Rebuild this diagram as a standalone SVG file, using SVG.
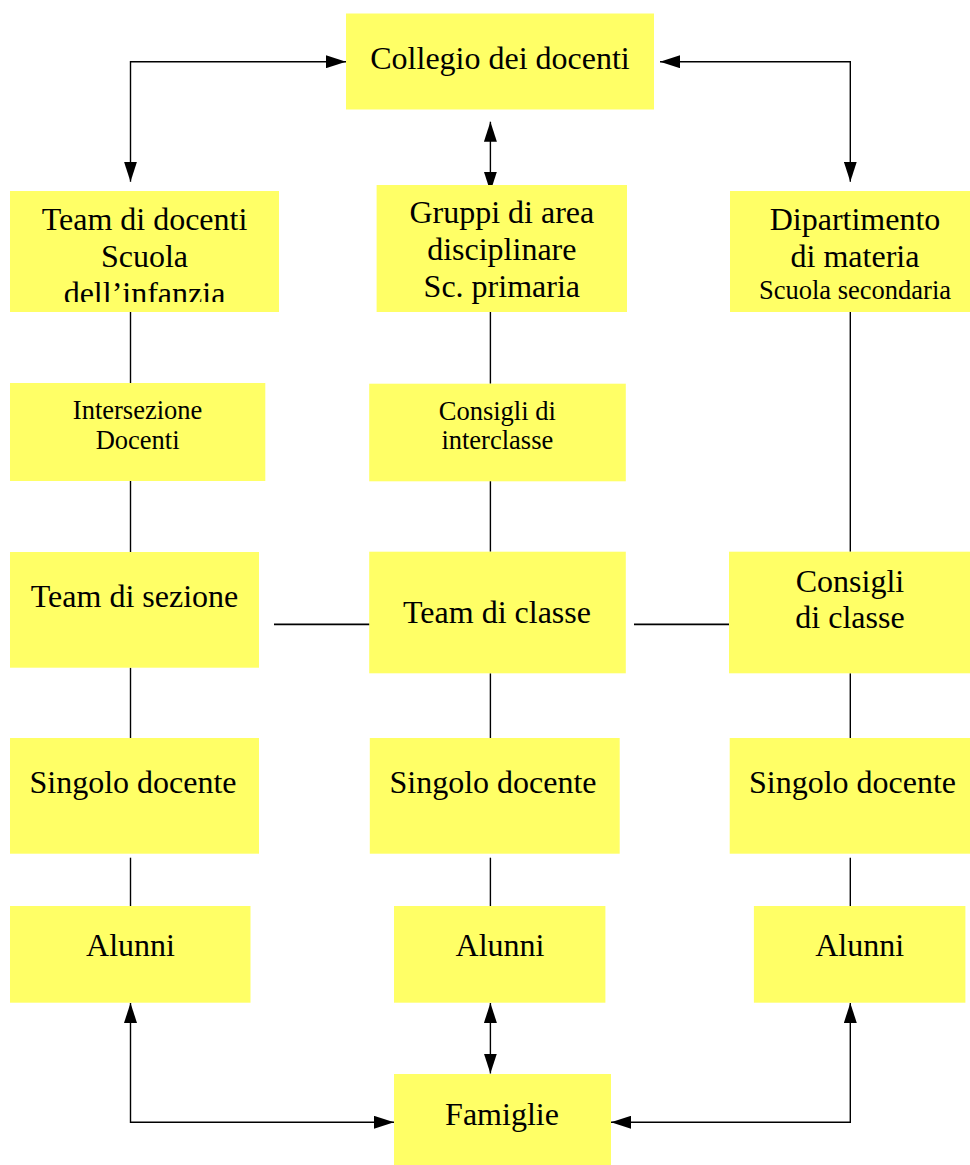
<svg xmlns="http://www.w3.org/2000/svg" width="970" height="1165" viewBox="0 0 970 1165">
<style>
.box{fill:#ffff66;stroke:none}
.t{font-family:"Liberation Serif","Times New Roman",serif;font-size:32px;fill:#000;text-anchor:middle}
.s{font-size:26.5px}
.ln{fill:none;stroke:#000;stroke-width:1.4}
.arr{marker-start:url(#ah);marker-end:url(#ah)}
</style>
<defs>
<marker id="ah" markerUnits="userSpaceOnUse" markerWidth="20" markerHeight="13" refX="20" refY="6.5" orient="auto-start-reverse" viewBox="0 0 20 13">
<path d="M0,0 L20,6.5 L0,13 z" fill="#000"/>
</marker>
<clipPath id="clipTeam"><rect x="10" y="191" width="269" height="111"/></clipPath>
</defs>
<rect width="970" height="1165" fill="#fff"/>
<g id="connectors">
<path class="ln arr" d="M130.5,181.7 V61.7 H346"/>
<path class="ln arr" d="M660,61.7 H850.3 V181.7"/>
<path class="ln arr" d="M490.4,121.7 V191.7"/>
<path class="ln" d="M130.5,311.7 V383"/>
<path class="ln" d="M130.5,481 V552"/>
<path class="ln" d="M130.5,667.7 V738"/>
<path class="ln" d="M130.5,857.7 V906"/>
<path class="ln" d="M490.4,311.7 V383.7"/>
<path class="ln" d="M490.4,481 V551.7"/>
<path class="ln" d="M490.4,673.3 V738"/>
<path class="ln" d="M490.4,857.7 V906"/>
<path class="ln" d="M850.3,311.7 V551.7"/>
<path class="ln" d="M850.3,673.3 V738"/>
<path class="ln" d="M850.3,857.7 V906"/>
<path class="ln" style="stroke-width:1.7" d="M274,624.3 H371"/>
<path class="ln" style="stroke-width:1.7" d="M634,624.3 H731"/>
<path class="ln arr" d="M130.5,1003 V1122.3 H394"/>
<path class="ln arr" d="M850.3,1003 V1122.3 H611"/>
<path class="ln arr" d="M490.4,1003 V1073.5"/>
</g>
<g id="collegio"><rect class="box" x="346" y="13.5" width="308" height="96"/><text class="t" x="500" y="68.5">Collegio dei docenti</text></g>
<g id="team-docenti"><rect class="box" x="10" y="191" width="269" height="121"/>
<g clip-path="url(#clipTeam)"><text class="t" x="144.5" y="230">Team di docenti</text><text class="t" x="144.5" y="266.7">Scuola</text><text class="t" x="144.5" y="303.5">dell’infanzia</text></g></g>
<g id="gruppi"><rect class="box" x="376.6" y="185" width="250.4" height="127"/><text class="t" x="501.8" y="223.3">Gruppi di area</text><text class="t" x="501.8" y="260">disciplinare</text><text class="t" x="501.8" y="296.7">Sc. primaria</text></g>
<g id="dipartimento"><rect class="box" x="730" y="191" width="250" height="121"/><text class="t" x="855" y="230">Dipartimento</text><text class="t" x="855" y="266.7">di materia</text><text class="t s" x="855" y="298.5">Scuola secondaria</text></g>
<g id="intersezione"><rect class="box" x="10" y="383" width="255.3" height="98"/><text class="t s" x="137.6" y="419.3">Intersezione</text><text class="t s" x="137.6" y="449.3">Docenti</text></g>
<g id="interclasse"><rect class="box" x="369.2" y="383.7" width="256.6" height="97.6"/><text class="t s" x="497.3" y="420">Consigli di</text><text class="t s" x="497.3" y="449.3">interclasse</text></g>
<g id="team-sezione"><rect class="box" x="10" y="552" width="249" height="115.7"/><text class="t" x="134.5" y="606.7">Team di sezione</text></g>
<g id="team-classe"><rect class="box" x="369.2" y="551.7" width="256.6" height="121.6"/><text class="t" x="497" y="623.3">Team di classe</text></g>
<g id="consigli-classe"><rect class="box" x="729" y="551.7" width="250" height="121.6"/><text class="t" x="850" y="591.7">Consigli</text><text class="t" x="850" y="628.3">di classe</text></g>
<g id="singolo-1"><rect class="box" x="10" y="738" width="249" height="115.7"/><text class="t" x="133" y="793.3">Singolo docente</text></g>
<g id="singolo-2"><rect class="box" x="369.8" y="738" width="249.9" height="115.7"/><text class="t" x="493" y="793.3">Singolo docente</text></g>
<g id="singolo-3"><rect class="box" x="729.7" y="738" width="250" height="115.7"/><text class="t" x="852.5" y="793.3">Singolo docente</text></g>
<g id="alunni-1"><rect class="box" x="10" y="906" width="240.5" height="96.7"/><text class="t" x="130.5" y="956">Alunni</text></g>
<g id="alunni-2"><rect class="box" x="394" y="906" width="211.4" height="96.7"/><text class="t" x="500" y="956">Alunni</text></g>
<g id="alunni-3"><rect class="box" x="753.9" y="906" width="211.5" height="96.7"/><text class="t" x="859.6" y="956">Alunni</text></g>
<g id="famiglie"><rect class="box" x="394" y="1074" width="217" height="95"/><text class="t" x="502" y="1125">Famiglie</text></g>
</svg>
